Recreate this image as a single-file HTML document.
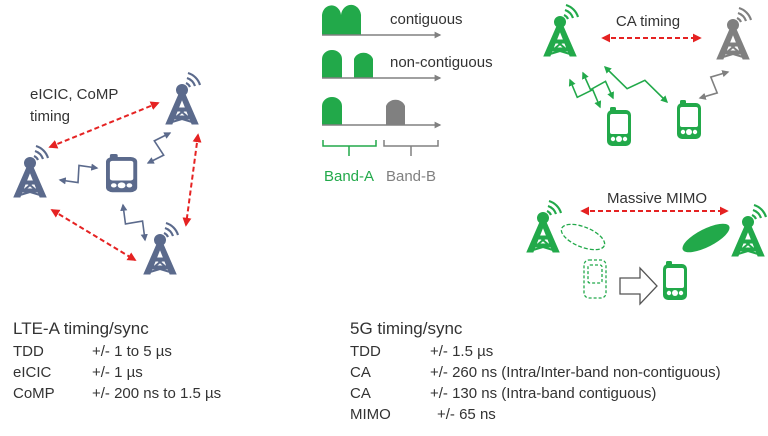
<!DOCTYPE html>
<html><head><meta charset="utf-8"><style>
body{margin:0;background:#fff;}
svg{display:block;font-family:"Liberation Sans",sans-serif;}
</style></head><body>
<svg id="s" width="768" height="436" viewBox="0 0 768 436" xmlns="http://www.w3.org/2000/svg">
<defs>
<marker id="ar" viewBox="0 0 10 10" refX="8" refY="5" markerWidth="4.5" markerHeight="4.5" orient="auto-start-reverse"><path d="M0,0L10,5L0,10z" fill="#e52222"/></marker>
<marker id="ab" viewBox="0 0 10 10" refX="8" refY="5" markerWidth="4.5" markerHeight="4.5" orient="auto-start-reverse"><path d="M0,0L10,5L0,10z" fill="#5b6a8c"/></marker>
<marker id="ag" viewBox="0 0 10 10" refX="8" refY="5" markerWidth="4.5" markerHeight="4.5" orient="auto-start-reverse"><path d="M0,0L10,5L0,10z" fill="#22a94a"/></marker>
<marker id="ay" viewBox="0 0 10 10" refX="8" refY="5" markerWidth="4.5" markerHeight="4.5" orient="auto-start-reverse"><path d="M0,0L10,5L0,10z" fill="#808080"/></marker>
<g id="tw">
<circle cx="0" cy="0" r="5.5"/>
<path d="M-2.5,3L-16,34h6L0,9L10,34h6L2.5,3z" stroke-width="1"/>
<path d="M-9,18h18v3h-18zM-12,26h24v3h-24z"/>
<path d="M-7,16L7,28M7,16L-7,28M-10,26L10,32M10,26L-10,32" stroke-width="2" fill="none"/>
<path d="M4,-7A8,8 0 0 1 8,-3M5,-12A13,13 0 0 1 13,-4M6,-17A18,18 0 0 1 18,-5" fill="none" stroke-width="2.2"/>
</g>
<g id="ph">
<rect x="0" y="3" width="24" height="36" rx="5" stroke="none"/>
<rect x="3" y="0" width="6" height="6" rx="1.5" stroke="none"/>
<rect x="3" y="7" width="18" height="20" rx="2" fill="#fff" stroke="none"/>
<circle cx="12" cy="32" r="3" fill="#fff" stroke="none"/><circle cx="6" cy="32" r="2.2" fill="#fff" stroke="none"/><circle cx="18" cy="32" r="2.2" fill="#fff" stroke="none"/>
</g>
</defs>

<g fill="#5b6a8c" stroke="#5b6a8c">
<use href="#tw" x="30" y="163"/><use href="#tw" x="182" y="90"/><use href="#tw" x="160" y="240"/>
</g>
<g transform="translate(106,154) scale(1.3,0.98)" fill="#5b6a8c"><use href="#ph"/></g>
<text x="30" y="99" font-size="15" fill="#333">eICIC, CoMP</text>
<text x="30" y="121" font-size="15" fill="#333">timing</text>
<g stroke="#e52222" stroke-width="2" stroke-dasharray="5,3" fill="none">
<line x1="50" y1="147" x2="158" y2="103" marker-start="url(#ar)" marker-end="url(#ar)"/>
<line x1="198" y1="135" x2="186" y2="225" marker-start="url(#ar)" marker-end="url(#ar)"/>
<line x1="52" y1="210" x2="135" y2="260" marker-start="url(#ar)" marker-end="url(#ar)"/>
<line x1="603" y1="38" x2="700" y2="38" marker-start="url(#ar)" marker-end="url(#ar)"/>
<line x1="582" y1="211" x2="727" y2="211" marker-start="url(#ar)" marker-end="url(#ar)"/>
</g>
<g id="zz"></g>

<g fill="#22a94a">
<path d="M322,35V17a9,10 0 0 1 19,-2a9,10 0 0 1 20,2V35z"/>
<path d="M322,78V59a10,9 0 0 1 20,0V78zM354,78V59a10,9 0 0 1 19,0V78zM322,125V106a10,9 0 0 1 20,0V125z"/>
</g>
<path d="M386,125V106a10,9 0 0 1 19,0V125z" fill="#808080"/>
<g stroke="#808080" stroke-width="1.5" fill="none">
<line x1="322" y1="35" x2="440" y2="35" marker-end="url(#ay)"/>
<line x1="322" y1="78" x2="440" y2="78" marker-end="url(#ay)"/>
<line x1="322" y1="125" x2="440" y2="125" marker-end="url(#ay)"/>
<path d="M384,140v6h54v-6M411,146v10"/>
</g>
<path d="M323,140v6h53v-6M349,146v10" stroke="#22a94a" stroke-width="1.5" fill="none"/>
<text x="390" y="24" font-size="15" fill="#333">contiguous</text>
<text x="390" y="67" font-size="15" fill="#333">non-contiguous</text>
<text x="349" y="181" font-size="15" fill="#22a94a" text-anchor="middle">Band-A</text>
<text x="411" y="181" font-size="15" fill="#808080" text-anchor="middle">Band-B</text>

<g fill="#22a94a" stroke="#22a94a"><use href="#tw" x="560" y="22"/><use href="#tw" x="543" y="218"/><use href="#tw" x="748" y="222"/></g>
<g fill="#808080" stroke="#808080"><use href="#tw" x="733" y="25"/></g>
<text x="648" y="26" font-size="15" fill="#333" text-anchor="middle">CA timing</text>
<g fill="#22a94a"><use href="#ph" x="607" y="107"/><use href="#ph" x="677" y="100"/><use href="#ph" x="663" y="261"/></g>

<text x="657" y="203" font-size="15" fill="#333" text-anchor="middle">Massive MIMO</text>
<ellipse cx="583" cy="237" rx="23" ry="10" transform="rotate(22 583 237)" fill="none" stroke="#22a94a" stroke-width="1.3" stroke-dasharray="4,2"/>
<ellipse cx="706" cy="238" rx="26" ry="9" transform="rotate(-27 706 238)" fill="#22a94a"/>
<g fill="none" stroke="#22a94a" stroke-width="1.3" stroke-dasharray="3,2">
<rect x="584" y="260" width="22" height="38" rx="5"/><rect x="588" y="265" width="14" height="18" rx="2"/>
</g>
<path d="M620,278h20v-10l17,18l-17,18v-10h-20z" fill="#fff" stroke="#555" stroke-width="1.3"/>

<g font-size="15" fill="#333">
<text x="13" y="334" font-size="17">LTE-A timing/sync</text>
<text x="13" y="356">TDD</text><text x="92" y="356">+/- 1 to 5 µs</text>
<text x="13" y="377">eICIC</text><text x="92" y="377">+/- 1 µs</text>
<text x="13" y="398">CoMP</text><text x="92" y="398">+/- 200 ns to 1.5 µs</text>
<text x="350" y="334" font-size="17">5G timing/sync</text>
<text x="350" y="356">TDD</text><text x="430" y="356">+/- 1.5 µs</text>
<text x="350" y="377">CA</text><text x="430" y="377">+/- 260 ns (Intra/Inter-band non-contiguous)</text>
<text x="350" y="398">CA</text><text x="430" y="398">+/- 130 ns (Intra-band contiguous)</text>
<text x="350" y="419">MIMO</text><text x="437" y="419">+/- 65 ns</text>
</g>
</svg>
<script>
var g=document.getElementById('zz'),ns="http://www.w3.org/2000/svg";
function z(x1,y1,x2,y2,c,m){var dx=x2-x1,dy=y2-y1,L=Math.hypot(dx,dy),nx=-dy/L*8,ny=dx/L*8;
var p=[[x1,y1],[x1+.42*dx+nx,y1+.42*dy+ny],[x1+.58*dx-nx,y1+.58*dy-ny],[x2,y2]];
var e=document.createElementNS(ns,'polyline');e.setAttribute('points',p.map(function(q){return q.join(',')}).join(' '));
e.setAttribute('fill','none');e.setAttribute('stroke',c);e.setAttribute('stroke-width','1.6');
e.setAttribute('marker-start','url(#'+m+')');e.setAttribute('marker-end','url(#'+m+')');g.appendChild(e);}
z(60,180,97,168,'#5b6a8c','ab');z(148,163,170,133,'#5b6a8c','ab');z(123,205,145,240,'#5b6a8c','ab');
z(570,80,600,107,'#22a94a','ag');z(583,73,613,98,'#22a94a','ag');z(605,67,667,102,'#22a94a','ag');z(728,72,700,98,'#808080','ay');
</script>
</body></html>
